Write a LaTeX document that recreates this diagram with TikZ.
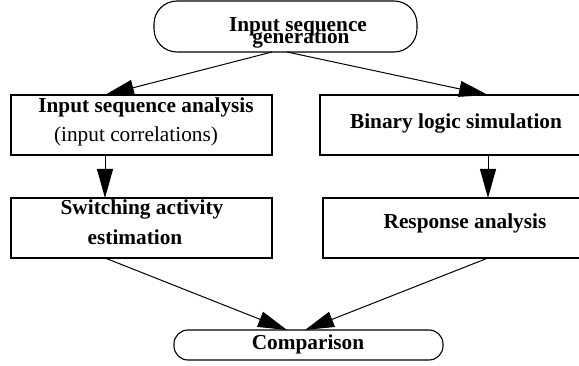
\documentclass[tikz,border=0pt]{standalone}
\usepackage{fontspec}
\setmainfont{Liberation Serif}
\usetikzlibrary{arrows.meta}
\begin{document}
\begin{tikzpicture}[x=1pt,y=-1pt,
  box/.style={draw,line width=1.1pt,inner sep=0pt,outer sep=0pt,anchor=north west},
  arr/.style={line width=1pt,-{Triangle[length=29pt,width=16pt]}},
  bl/.style={font=\fontsize{21.3}{25}\selectfont\bfseries,anchor=base,inner sep=0pt},
  rl/.style={font=\fontsize{21.3}{25}\selectfont,anchor=base,inner sep=0pt}]
\useasboundingbox (0,0) rectangle (579,366);
\clip (0,0) rectangle (579,366);
\node[box,rounded corners=23pt,minimum width=263pt,minimum height=51pt] (gen) at (154,1) {};
\node[box,minimum width=261pt,minimum height=60pt] (A1) at (11,95) {};
\node[box,minimum width=270pt,minimum height=60pt] (B1) at (320,95) {};
\node[box,minimum width=261pt,minimum height=60pt] (A2) at (11,198) {};
\node[box,minimum width=270pt,minimum height=60pt] (B2) at (323,198) {};
\node[box,rounded corners=14pt,minimum width=269pt,minimum height=30pt] (C) at (174,330) {};
\node[bl] (tg1) at (298,32) {Input sequence};
\node[bl] (tg2) at (301,44) {generation};
\node[bl] (ta1) at (146,113) {Input sequence analysis};
\node[rl] (ta2) at (136,142) {(input correlations)};
\node[bl] (tb1) at (456,129) {Binary logic simulation};
\node[bl] (tc1) at (142,215) {Switching activity};
\node[bl] (tc2) at (135,245) {estimation};
\node[bl] (td1) at (465,229) {Response analysis};
\node[bl] (te1) at (308,350) {Comparison};
\draw[arr] ([xshift=118pt]gen.south west) -- ([xshift=94pt]A1.north west);
\draw[arr] ([xshift=133pt]gen.south west) -- ([xshift=168pt]B1.north west);
\draw[arr] ([xshift=94pt]A1.south west) -- ([xshift=94pt]A2.north west);
\draw[arr] ([xshift=168pt]B1.south west) -- ([xshift=165pt]B2.north west);
\draw[arr] ([xshift=94pt]A2.south west) -- ([xshift=113pt]C.north west);
\draw[arr] ([xshift=165pt]B2.south west) -- ([xshift=131pt]C.north west);
\end{tikzpicture}
\end{document}
